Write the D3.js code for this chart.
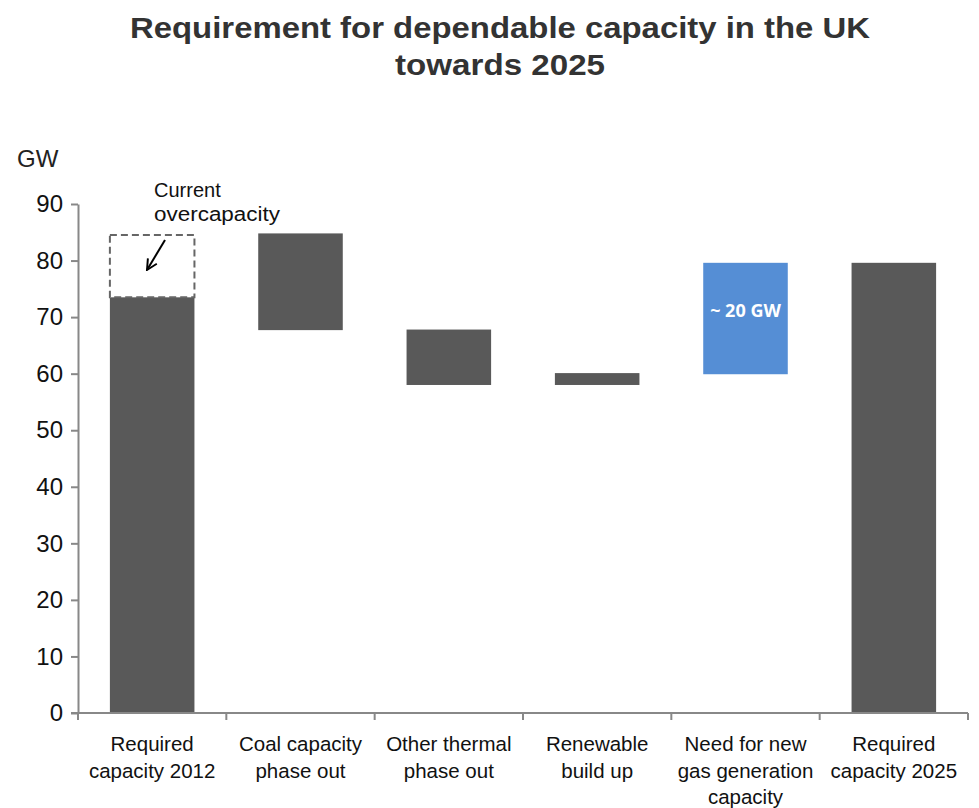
<!DOCTYPE html>
<html>
<head>
<meta charset="utf-8">
<script src="https://cdn.jsdelivr.net/npm/d3@7"></script>
<style>
  body { margin: 0; background: #fff; }
  svg { display: block; font-family: "Liberation Sans", Arial, sans-serif; }
</style>
</head>
<body>
<script>
// Data
const categories = [
    ["Required", "capacity 2012"],
    ["Coal capacity", "phase out"],
    ["Other thermal", "phase out"],
    ["Renewable", "build up"],
    ["Need for new", "gas generation", "capacity"],
    ["Required", "capacity 2025"]
];
const barBottom = [0, 67.7, 58.0, 58.0, 59.9, 0];
const barTop = [73.5, 84.8, 67.8, 60.1, 79.6, 79.6];
const barColor = ["#595959", "#595959", "#595959", "#595959", "#558ED5", "#595959"];
const overcapacity = [73.5, 84.5];
const yTicks = [0, 10, 20, 30, 40, 50, 60, 70, 80, 90];

const width = 979, height = 808;
const margin = { top: 204, right: 11, bottom: 95, left: 78 };

const svg = d3.select("body").append("svg")
    .attr("width", width)
    .attr("height", height)
    .attr("viewBox", [0, 0, width, height]);

const keys = categories.map((c, i) => i);

const x = d3.scaleBand()
    .domain(keys)
    .range([margin.left, width - margin.right])
    .paddingInner(0.43)
    .paddingOuter(0.215);

const y = d3.scaleLinear()
    .domain([0, 90])
    .range([height - margin.bottom, margin.top]);

// Title
svg.append("text")
    .attr("x", 500).attr("y", 38)
    .attr("text-anchor", "middle")
    .attr("font-size", 29).attr("font-weight", "bold").attr("fill", "#333")
    .attr("textLength", 740).attr("lengthAdjust", "spacingAndGlyphs")
    .text("Requirement for dependable capacity in the UK");
svg.append("text")
    .attr("x", 500).attr("y", 75)
    .attr("text-anchor", "middle")
    .attr("font-size", 29).attr("font-weight", "bold").attr("fill", "#333")
    .attr("textLength", 210).attr("lengthAdjust", "spacingAndGlyphs")
    .text("towards 2025");

// Unit label
svg.append("text")
    .attr("x", 17).attr("y", 167)
    .attr("font-size", 24).attr("fill", "#222")
    .text("GW");

// Bars
svg.append("g")
    .selectAll("rect")
    .data(keys)
    .join("rect")
    .attr("x", i => x(i))
    .attr("y", i => y(barTop[i]))
    .attr("width", x.bandwidth())
    .attr("height", i => y(barBottom[i]) - y(barTop[i]))
    .attr("fill", i => barColor[i]);

// Dashed overcapacity box
svg.append("rect")
    .attr("x", x(0))
    .attr("y", y(overcapacity[1]))
    .attr("width", x.bandwidth())
    .attr("height", y(overcapacity[0]) - y(overcapacity[1]))
    .attr("fill", "none")
    .attr("stroke", "#666")
    .attr("stroke-width", 2)
    .attr("stroke-dasharray", "7,4");

// Annotation
const note = svg.append("text")
    .attr("font-size", 20).attr("fill", "#111");
note.append("tspan").attr("x", 154).attr("y", 197).text("Current");
note.append("tspan").attr("x", 154).attr("y", 221)
    .attr("textLength", 126).attr("lengthAdjust", "spacingAndGlyphs")
    .text("overcapacity");

svg.append("defs").append("marker")
    .attr("id", "arrow")
    .attr("viewBox", "0 0 10 10")
    .attr("refX", 9).attr("refY", 5)
    .attr("markerUnits", "userSpaceOnUse")
    .attr("markerWidth", 13).attr("markerHeight", 13)
    .attr("orient", "auto")
    .append("path")
    .attr("d", "M1,1 L9,5 L1,9")
    .attr("fill", "none")
    .attr("stroke", "#000")
    .attr("stroke-width", 1.5);

svg.append("line")
    .attr("x1", 165).attr("y1", 240)
    .attr("x2", 147).attr("y2", 270)
    .attr("stroke", "#000")
    .attr("stroke-width", 2)
    .attr("marker-end", "url(#arrow)");

// Gas label
svg.append("text")
    .attr("x", x(4) + x.bandwidth() / 2)
    .attr("y", 317)
    .attr("text-anchor", "middle")
    .attr("font-family", "Open Sans, sans-serif")
    .attr("font-size", 18).attr("font-weight", "bold").attr("fill", "#fff")
    .text("~ 20 GW");

// Y axis
const yAxis = svg.append("g")
    .attr("transform", `translate(${margin.left},0)`)
    .call(d3.axisLeft(y).tickValues(yTicks).tickSize(7).tickSizeOuter(0).tickPadding(8));
yAxis.select(".domain").attr("stroke", "#888").attr("stroke-width", 2);
yAxis.selectAll(".tick line").attr("stroke", "#888").attr("stroke-width", 2);
yAxis.selectAll(".tick text")
    .attr("font-size", 24).attr("fill", "#111")
    .attr("font-family", "Liberation Sans, Arial, sans-serif");

// X axis with boundary ticks
const xAxisG = svg.append("g")
    .attr("transform", `translate(0,${y(0)})`);
xAxisG.append("line")
    .attr("x1", margin.left - 7).attr("x2", width - margin.right)
    .attr("stroke", "#888").attr("stroke-width", 2);
const bounds = keys.map(i => x(i) - x.step() * x.paddingInner() / 2)
    .concat([width - margin.right]);
xAxisG.selectAll(".btick")
    .data(bounds)
    .join("line")
    .attr("class", "btick")
    .attr("x1", d => d).attr("x2", d => d)
    .attr("y1", 0).attr("y2", 7)
    .attr("stroke", "#888").attr("stroke-width", 2);

// Category labels
const catLabels = svg.append("g")
    .selectAll("text")
    .data(keys)
    .join("text")
    .attr("text-anchor", "middle")
    .attr("font-size", 20.5)
    .attr("fill", "#111");
catLabels.selectAll("tspan")
    .data(i => categories[i].map(line => ({ i, line })))
    .join("tspan")
    .attr("x", d => x(d.i) + x.bandwidth() / 2)
    .attr("y", (d, j) => 751 + j * 26.5)
    .text(d => d.line);
</script>
</body>
</html>
